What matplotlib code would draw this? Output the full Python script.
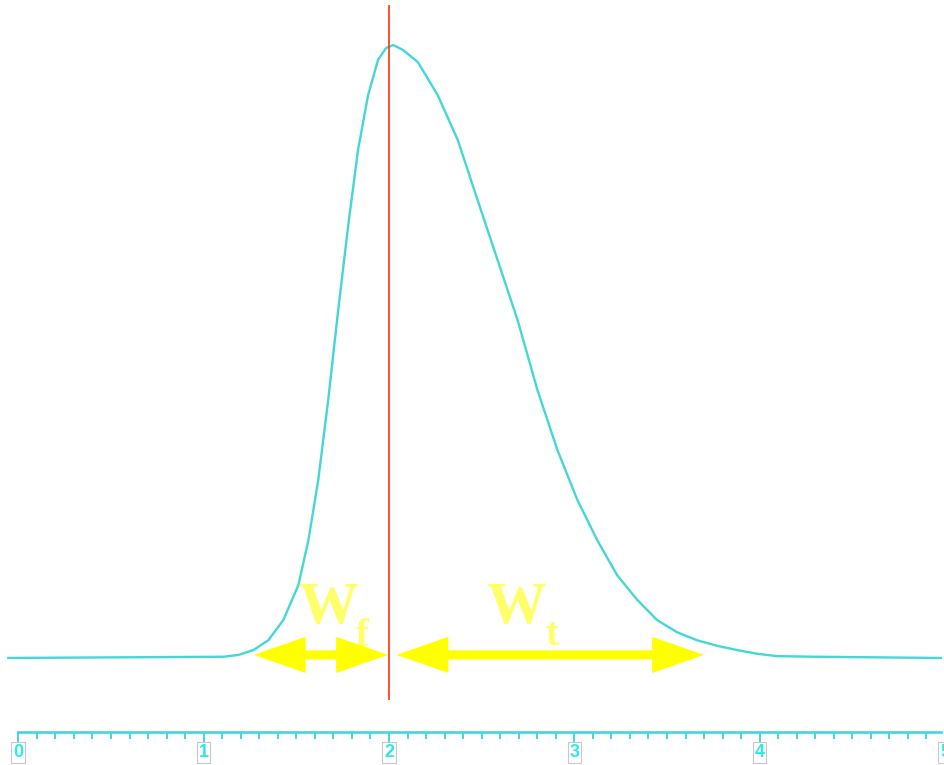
import matplotlib
matplotlib.use("Agg")
import matplotlib.pyplot as plt
from matplotlib.ticker import MultipleLocator

# pulse shape (time, normalised amplitude)
curve_x = [-0.054, 1.108, 1.188, 1.269, 1.349, 1.430, 1.511, 1.565, 1.618, 1.672,
           1.726, 1.780, 1.833, 1.887, 1.941, 1.984, 2.022, 2.075, 2.156, 2.263,
           2.371, 2.478, 2.586, 2.694, 2.801, 2.909, 3.016, 3.124, 3.231, 3.339,
           3.446, 3.554, 3.661, 3.769, 3.876, 3.984, 4.091, 4.306, 4.978]
curve_y = [0.0, 0.002, 0.005, 0.013, 0.029, 0.062, 0.119, 0.192, 0.290, 0.421,
           0.568, 0.706, 0.829, 0.918, 0.976, 0.995, 1.0, 0.992, 0.972, 0.918,
           0.845, 0.747, 0.649, 0.551, 0.437, 0.339, 0.258, 0.192, 0.135, 0.095,
           0.062, 0.042, 0.029, 0.020, 0.013, 0.007, 0.003, 0.002, 0.0]

peak_x = 2.0
marker_top, marker_bottom = 1.065, -0.068

# widths: front (Wf) and tail (Wt)
wf_start, wf_end = 1.27, 1.995
wt_start, wt_end = 2.04, 3.70
arrow_y = 0.005

tick_major = [0, 1, 2, 3, 4, 5]
tick_labels = ["0", "1", "2", "3", "4", "5"]

cyan = "#45d6d6"
yellow = "#ffff00"
pale_yellow = "#ffff6a"

fig = plt.figure(figsize=(9.45, 7.65), dpi=100)
ax = fig.add_axes([0, 0, 1, 1])
ax.set_xlim(-0.099, 4.978)
ax.set_ylim(-0.1746, 1.0734)

ax.plot(curve_x, curve_y, color=cyan, lw=1.7, zorder=2)
ax.vlines(peak_x, marker_bottom, marker_top, color="#ff3300", lw=1.2, zorder=3)


def double_arrow(x0, x1, y):
    mid = (x0 + x1) / 2
    style = "simple,head_length=3.74,head_width=2.6,tail_width=0.65"
    for end in (x0, x1):
        ax.annotate("", xy=(end, y), xytext=(mid, y),
                    arrowprops=dict(arrowstyle=style, mutation_scale=10,
                                    color=yellow, lw=0, shrinkA=0, shrinkB=0),
                    zorder=4)


double_arrow(wf_start, wf_end, arrow_y)
double_arrow(wt_start, wt_end, arrow_y)

serif = dict(family="Liberation Serif", weight="bold", color=pale_yellow)
ax.text(1.511, 0.057, "W", fontsize=43, ha="left", va="baseline", **serif)
ax.text(1.823, 0.020, "f", fontsize=28, ha="left", va="baseline", **serif)
ax.text(2.522, 0.057, "W", fontsize=43, ha="left", va="baseline", **serif)
ax.text(2.844, 0.021, "t", fontsize=28, ha="left", va="baseline", **serif)

# custom time axis
for s in ["left", "right", "top"]:
    ax.spines[s].set_visible(False)
ax.spines["bottom"].set_position(("data", -0.1207))
ax.spines["bottom"].set_color(cyan)
ax.spines["bottom"].set_linewidth(1.9)
ax.spines["bottom"].set_bounds(0, 4.978)
ax.set_yticks([])
ax.set_xticks(tick_major)
ax.set_xticklabels(tick_labels, fontsize=13, fontfamily="Liberation Sans",
                   fontweight="bold", color="#2ee8e8")
ax.xaxis.set_minor_locator(MultipleLocator(0.1))
ax.tick_params(axis="x", which="major", length=8, width=1.4, color=cyan, pad=0.5)
ax.tick_params(axis="x", which="minor", length=5, width=1.4, color=cyan)
for lbl in ax.get_xticklabels():
    lbl.set_bbox(dict(boxstyle="square,pad=0.1", fc="white", ec="#c8c8c8", lw=0.8))

fig.savefig("out.png", dpi=100)
